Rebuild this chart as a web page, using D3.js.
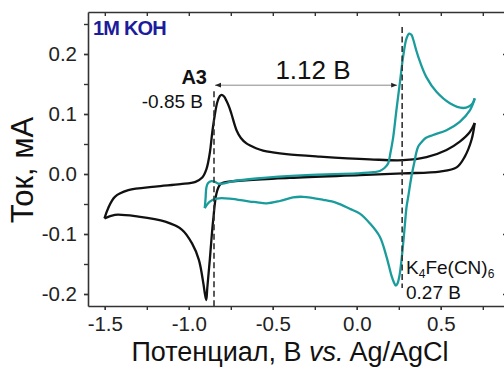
<!DOCTYPE html>
<html>
<head>
<meta charset="utf-8">
<script src="https://cdn.jsdelivr.net/npm/d3@7"></script>
<style>
  html, body { margin: 0; padding: 0; background: #fff; }
  svg { display: block; font-family: Arial, "Liberation Sans", sans-serif; }
</style>
</head>
<body>
<svg id="chart" width="504" height="367"></svg>
<script>
// ---- data (potential V vs. Ag/AgCl, current mA) ----
const xMajorTicks = [-1.5, -1.0, -0.5, 0.0, 0.5];
const xMinorTicks = [-1.5, -1.25, -1.0, -0.75, -0.5, -0.25, 0.0, 0.25, 0.5, 0.75];
const yMajorTicks = [-0.2, -0.1, 0.0, 0.1, 0.2];
const yMinorTicks = [-0.2, -0.15, -0.1, -0.05, 0.0, 0.05, 0.1, 0.15, 0.2, 0.25];

// A3 in 1M KOH (black) – forward (anodic) scan
const blackForward = [
  [-1.502,-0.074],[-1.48,-0.057],[-1.44,-0.038],[-1.36,-0.027],[-1.20,-0.021],[-1.05,-0.017],
  [-0.96,-0.013],[-0.92,-0.006],[-0.895,0.008],[-0.875,0.035],[-0.86,0.07],[-0.846,0.097],
  [-0.83,0.12],[-0.815,0.13],[-0.805,0.132],[-0.79,0.129],[-0.776,0.122],[-0.76,0.112],
  [-0.746,0.1],[-0.716,0.073],[-0.69,0.06],[-0.657,0.051],[-0.6,0.043],[-0.558,0.039],
  [-0.5,0.036],[-0.419,0.033],[-0.22,0.029],[0.077,0.0245],[0.276,0.023],[0.415,0.028],
  [0.534,0.04],[0.613,0.054],[0.673,0.07],[0.702,0.085]
];
// A3 – reverse (cathodic) scan
const blackReverse = [
  [0.702,0.085],[0.683,0.057],[0.643,0.029],[0.594,0.011],[0.494,0.004],[0.276,0.001],
  [0.018,-0.002],[-0.399,-0.0065],[-0.794,-0.0144],[-0.815,-0.018],[-0.835,-0.032],
  [-0.855,-0.077],[-0.875,-0.143],[-0.89,-0.19],[-0.896,-0.21],[-0.904,-0.20],[-0.913,-0.183],
  [-0.94,-0.143],[-0.98,-0.116],[-1.04,-0.093],[-1.14,-0.0795],[-1.30,-0.071],[-1.44,-0.068],
  [-1.502,-0.074]
];
// K4Fe(CN)6 (teal) – forward scan
const tealForward = [
  [-0.905,-0.057],[-0.9,-0.04],[-0.895,-0.022],[-0.885,-0.015],[-0.865,-0.012],[-0.845,-0.013],
  [-0.825,-0.016],[-0.8,-0.016],[-0.736,-0.012],[-0.597,-0.0075],[-0.3,-0.002],[0.0,0.001],
  [0.1,0.003],[0.137,0.005],[0.165,0.01],[0.187,0.018],[0.2,0.035],[0.217,0.062],[0.236,0.107],
  [0.256,0.151],[0.276,0.196],[0.296,0.226],[0.312,0.234],[0.325,0.232],[0.335,0.225],
  [0.355,0.205],[0.375,0.188],[0.415,0.161],[0.474,0.137],[0.554,0.118],[0.633,0.11],
  [0.67,0.113],[0.69,0.118],[0.702,0.126]
];
// K4Fe(CN)6 – reverse scan
const tealReverse = [
  [0.702,0.126],[0.673,0.106],[0.613,0.087],[0.534,0.073],[0.454,0.065],[0.41,0.06],
  [0.385,0.053],[0.365,0.0455],[0.352,0.033],[0.345,0.023],[0.325,-0.0045],[0.306,-0.038],
  [0.296,-0.055],[0.286,-0.085],[0.276,-0.116],[0.256,-0.166],[0.243,-0.182],[0.232,-0.186],
  [0.22,-0.18],[0.206,-0.169],[0.177,-0.138],[0.137,-0.1045],[0.077,-0.082],[0.018,-0.066],
  [-0.042,-0.058],[-0.121,-0.048],[-0.2,-0.043],[-0.32,-0.038],[-0.38,-0.039],[-0.458,-0.045],
  [-0.538,-0.049],[-0.6,-0.047],[-0.637,-0.046],[-0.756,-0.041],[-0.835,-0.041],
  [-0.875,-0.046],[-0.905,-0.057]
];

const peakA3 = -0.85;       // V
const peakFe = 0.27;        // V
const peakGap = "1.12 B";

// ---- layout ----
const svg = d3.select("#chart");
const x = d3.scaleLinear().domain([-1.6, 0.9]).range([88, 508]);
const y = d3.scaleLinear().domain([-0.22, 0.27]).range([306, 12]);
const axisColor = "#333";
const fmt = d => d3.format(".1f")(d).replace("\u2212", "-");

const line = d3.line().x(d => x(d[0])).y(d => y(d[1])).curve(d3.curveCatmullRom.alpha(0.5));

function styleAxis(g) {
  g.select(".domain").attr("stroke", axisColor).attr("stroke-width", 1.6);
  g.selectAll(".tick line").attr("stroke", axisColor).attr("stroke-width", 1.4);
  g.selectAll(".tick text").attr("fill", "#222").attr("font-size", 20.5);
}
// bottom
svg.append("g").attr("transform", "translate(0,306)")
  .call(d3.axisBottom(x).tickValues(xMinorTicks).tickSize(4).tickSizeOuter(0).tickFormat(""))
  .call(styleAxis);
svg.append("g").attr("transform", "translate(0,306)")
  .call(d3.axisBottom(x).tickValues(xMajorTicks).tickSize(4).tickPadding(6).tickSizeOuter(0).tickFormat(fmt))
  .call(styleAxis)
  .call(g => g.select(".domain").remove())
  .call(g => g.selectAll(".tick text").attr("dy", "0.74em"));
// top
svg.append("g").attr("transform", "translate(0,12)")
  .call(d3.axisTop(x).tickValues(xMinorTicks).tickSize(-4).tickSizeOuter(0).tickFormat(""))
  .call(styleAxis);
// left
svg.append("g").attr("transform", "translate(88,0)")
  .call(d3.axisLeft(y).tickValues(yMinorTicks).tickSize(4).tickSizeOuter(0).tickFormat(""))
  .call(styleAxis);
svg.append("g").attr("transform", "translate(88,0)")
  .call(d3.axisLeft(y).tickValues(yMajorTicks).tickSize(4).tickPadding(7).tickSizeOuter(0).tickFormat(fmt))
  .call(styleAxis)
  .call(g => g.select(".domain").remove());
// right
svg.append("g").attr("transform", "translate(508,0)")
  .call(d3.axisRight(y).tickValues(yMajorTicks).tickSize(-5).tickSizeOuter(0).tickFormat(""))
  .call(styleAxis);

// curves
const black = "#111";
const teal = "#1a9c9c";
[[blackForward, black], [blackReverse, black], [tealForward, teal], [tealReverse, teal]].forEach(([d, c]) => {
  svg.append("path").datum(d).attr("d", line).attr("fill", "none")
    .attr("stroke", c).attr("stroke-width", 2.3).attr("stroke-linejoin", "round");
});

// dashed vertical markers
svg.append("line").attr("x1", x(peakA3)).attr("x2", x(peakA3))
  .attr("y1", y(0.138)).attr("y2", y(-0.22))
  .attr("stroke", "#333").attr("stroke-width", 1.6).attr("stroke-dasharray", "6,3.5");
svg.append("line").attr("x1", x(peakFe)).attr("x2", x(peakFe))
  .attr("y1", y(0.245)).attr("y2", y(-0.19))
  .attr("stroke", "#333").attr("stroke-width", 1.6).attr("stroke-dasharray", "6,3.5");

// double arrow
const defs = svg.append("defs");
defs.append("marker").attr("id", "ah").attr("viewBox", "0 0 10 10").attr("refX", 10).attr("refY", 5)
  .attr("markerWidth", 6).attr("markerHeight", 6).attr("orient", "auto-start-reverse")
  .append("path").attr("d", "M0,1 L10,5 L0,9 z").attr("fill", "#222");
svg.append("line").attr("x1", x(peakA3) + 1).attr("x2", x(peakFe) - 5)
  .attr("y1", y(0.148)).attr("y2", y(0.148))
  .attr("stroke", "#888").attr("stroke-width", 1)
  .attr("marker-start", "url(#ah)").attr("marker-end", "url(#ah)");

// texts
svg.append("text").attr("x", 93).attr("y", 35).attr("font-size", 20).attr("font-weight", "bold")
  .attr("fill", "#1c1c9c").attr("letter-spacing", -0.8).text("1M KOH");
svg.append("text").attr("x", 207).attr("y", 84).attr("font-size", 20).attr("font-weight", "bold")
  .attr("text-anchor", "end").attr("fill", "#111").text("A3");
svg.append("text").attr("x", 203).attr("y", 108).attr("font-size", 19)
  .attr("text-anchor", "end").attr("fill", "#111").text("-0.85 B");
svg.append("text").attr("x", 313).attr("y", 79).attr("font-size", 26)
  .attr("text-anchor", "middle").attr("fill", "#111").text(peakGap);
const k = svg.append("text").attr("x", 406).attr("y", 274).attr("font-size", 19).attr("fill", "#111");
k.append("tspan").text("K");
k.append("tspan").attr("font-size", 12).attr("dy", 4).text("4");
k.append("tspan").attr("dy", -4).text("Fe(CN)");
k.append("tspan").attr("font-size", 12).attr("dy", 4).text("6");
svg.append("text").attr("x", 406).attr("y", 299).attr("font-size", 19).attr("fill", "#111").text("0.27 B");

// axis titles
const xt = svg.append("text").attr("x", 290).attr("y", 361).attr("font-size", 27)
  .attr("text-anchor", "middle").attr("fill", "#111");
xt.append("tspan").text("Потенциал, B ");
xt.append("tspan").attr("font-style", "italic").text("vs.");
xt.append("tspan").text(" Ag/AgCl");
svg.append("text").attr("transform", "translate(33,170) rotate(-90)").attr("font-size", 31)
  .attr("text-anchor", "middle").attr("fill", "#111").text("Ток, мА");
</script>
</body>
</html>
